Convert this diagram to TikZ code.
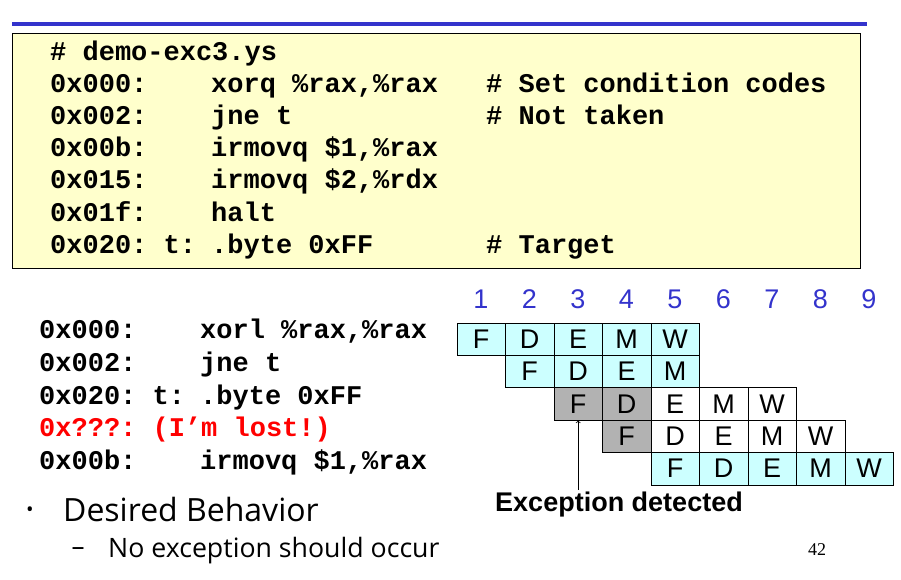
\documentclass[tikz,border=0pt]{standalone}
\usepackage{fontspec}
\setmainfont{Liberation Sans}
\setmonofont{Liberation Mono}
\newfontfamily\handfont{Open Sans}
\newfontfamily\pagefont{Liberation Serif}
\usetikzlibrary{positioning}

\definecolor{slideblue}{RGB}{51,51,204}
\definecolor{codeyellow}{RGB}{255,255,204}
\definecolor{stagecyan}{RGB}{204,255,255}
\definecolor{stagegray}{RGB}{178,178,178}

\tikzset{
	code/.style={anchor=base west, inner sep=0pt, font=\ttfamily\bfseries\fontsize{27}{27}\selectfont},
	stagebox/.style={draw, line width=0.8pt, anchor=north west, minimum width=48.5pt, minimum height=32.4pt, inner sep=0pt, font=\fontsize{27}{27}\selectfont},
	cyclenum/.style={anchor=base, text=slideblue, inner sep=0pt, font=\fontsize{27}{27}\selectfont},
}

\begin{document}
\begin{tikzpicture}[x=1pt, y=-1pt]
	\def\xO{456.5};
	\def\yO{322.5};
	\def\cellW{48.5};
	\def\cellH{32.4};
	
	\useasboundingbox (0,0) rectangle (901,579);
	
	% rule and program listing
	\draw[slideblue, line width=4pt] (12,24) -- (867,24);
	\draw[fill=codeyellow, line width=0.8pt] (12,33) rectangle (860,268);
	
	\begin{scope}[every node/.style={code}]
		\node (a0) at (50,60) {\# demo-exc3.ys};
		\node (a1) at (50,92) {0x000:};
		\node (a2) at (50,124) {0x002:};
		\node (a3) at (50,156) {0x00b:};
		\node (a4) at (50,188) {0x015:};
		\node (a5) at (50,221) {0x01f:};
		\node (a6) at (50,253) {0x020: t:};
		\node (i1) at (211,92) {xorq \%rax,\%rax};
		\node (i2) at (211,124) {jne t};
		\node (i3) at (211,156) {irmovq \$1,\%rax};
		\node (i4) at (211,188) {irmovq \$2,\%rdx};
		\node (i5) at (211,221) {halt};
		\node (i6) at (211,253) {.byte 0xFF};
		\node (n1) at (486,92) {\# Set condition codes};
		\node (n2) at (486,124) {\# Not taken};
		\node (n6) at (486,253) {\# Target};
	\end{scope}
	
	% executed sequence
	\begin{scope}[every node/.style={code}]
		\node (la1) at (39,338) {0x000:};
		\node (la2) at (39,371) {0x002:};
		\node (la3) at (39,404) {0x020: t:};
		\node[text=red] (la4) at (39,436) {0x???: (I’m lost!)};
		\node (la5) at (39,469) {0x00b:};
		\node (li1) at (200,338) {xorl \%rax,\%rax};
		\node (li2) at (200,371) {jne t};
		\node (li3) at (200,404) {.byte 0xFF};
		\node (li5) at (200,469) {irmovq \$1,\%rax};
	\end{scope}
	
	% pipeline diagram
	\foreach \c in {1,...,9}
		\node[cyclenum] (cyc\c) at ({\xO+(\c-0.5)*\cellW},308.5) {\c};
	
	\foreach \r/\cells in {0/{F/stagecyan,D/stagecyan,E/stagecyan,M/stagecyan,W/stagecyan},
		1/{F/stagecyan,D/stagecyan,E/stagecyan,M/stagecyan},
		2/{F/stagegray,D/stagegray,E/white,M/white,W/white},
		3/{F/stagegray,D/white,E/white,M/white,W/white},
		4/{F/stagecyan,D/stagecyan,E/stagecyan,M/stagecyan,W/stagecyan}}{
		\foreach \s/\f [count=\i from 0] in \cells
			\node[stagebox, fill=\f] (s\r-\i) at ({\xO+(\r+\i)*\cellW},{\yO+\r*\cellH}) {\s};
	}
	
	\node[anchor=base, inner sep=1pt, font=\bfseries\fontsize{27}{27}\selectfont] (exc) at (619,511) {Exception detected};
	\draw[->, line width=0.8pt] (s2-0.south |- exc.north) -- (s2-0.south);
	
	% bullets
	\node[inner sep=0pt, font=\handfont\fontsize{20}{20}\selectfont] (dot) at (30,512) {•};
	\node[anchor=base west, inner sep=0pt, font=\handfont\fontsize{32}{32}\selectfont] (want) at (63,521) {Desired Behavior};
	\node[inner sep=0pt, font=\handfont\fontsize{26}{26}\selectfont] (dash) at (78,552) {–};
	\node[anchor=base west, inner sep=0pt, font=\handfont\fontsize{26.7}{26.7}\selectfont] (noexc) at (108,557) {No exception should occur};
	
	\node[font=\pagefont\fontsize{18}{18}\selectfont] (page) at (817,550) {42};
\end{tikzpicture}
\end{document}
